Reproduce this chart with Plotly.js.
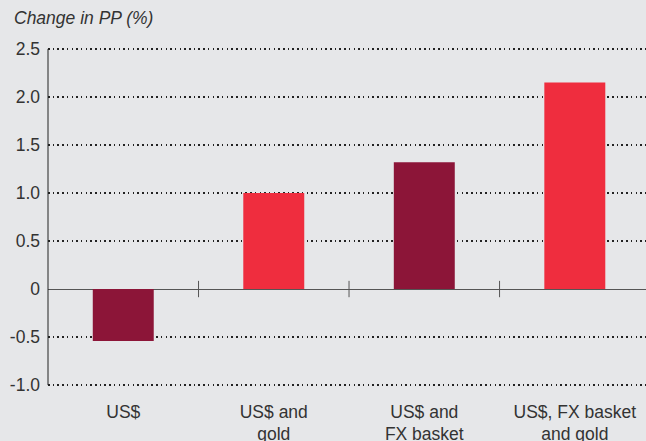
<!DOCTYPE html>
<html>
<head>
<meta charset="utf-8">
<script src="https://cdn.plot.ly/plotly-3.0.1.min.js"></script>
<style>html,body{margin:0;padding:0;background:#e6e7e9;}</style>
</head>
<body>
<div id="chart" style="width:646px;height:441px;"></div>
<script>
const categories = ["US$", "US$ and<br>gold", "US$ and<br>FX basket", "US$, FX basket<br>and gold"];
const values = [-0.54, 1.0, 1.32, 2.15];
const barColors = ["#8c1538", "#ef2d3e", "#8c1538", "#ef2d3e"];
const yTickVals = [-1.0, -0.5, 0, 0.5, 1.0, 1.5, 2.0, 2.5];
const yTickText = ["-1.0", "-0.5", "0", "0.5", "1.0", "1.5", "2.0", "2.5"];
const boundaryPositions = [0.5, 1.5, 2.5];

const xIdx = categories.map((c, i) => i);

const trace = {
  type: "bar",
  x: xIdx,
  y: values,
  marker: {color: barColors},
  hoverinfo: "skip"
};

const shapes = boundaryPositions.map(p => ({
  type: "line", xref: "x", yref: "y",
  x0: p, x1: p, y0: -0.085, y1: 0.085,
  line: {color: "#555", width: 1}
}));
// vertical axis line spanning the labelled range only
shapes.push({
  type: "line", xref: "paper", yref: "y",
  x0: 0, x1: 0, y0: yTickVals[0], y1: yTickVals[yTickVals.length - 1],
  line: {color: "#222", width: 1}
});

const layout = {
  width: 646, height: 441,
  paper_bgcolor: "#e6e7e9",
  plot_bgcolor: "#e6e7e9",
  margin: {l: 48, r: 0, t: 47, b: 54},
  showlegend: false,
  bargap: 0.595,
  font: {family: "Liberation Sans, Arial, sans-serif", color: "#333", size: 17.5},
  title: {
    text: "<i>Change in PP (%)</i>",
    xref: "container", yref: "container",
    x: 14/646, xanchor: "left",
    y: 1 - 18/441, yanchor: "middle",
    font: {size: 17.5, color: "#333"}
  },
  xaxis: {
    range: [-0.5, 3.473],
    tickvals: xIdx,
    ticktext: categories,
    ticks: "",
    showgrid: false,
    zeroline: false,
    showline: false,
    ticklabelstandoff: 12,
    tickfont: {size: 17.5, color: "#333"}
  },
  yaxis: {
    range: [-1.02, 2.52],
    tickvals: yTickVals,
    ticktext: yTickText,
    ticks: "",
    showline: false,
    showgrid: true,
    gridcolor: "#222",
    gridwidth: 1.5,
    griddash: "1.5px,3.2px",
    zeroline: true,
    zerolinecolor: "#555",
    zerolinewidth: 1,
    ticklabelstandoff: 7,
    tickfont: {size: 17.5, color: "#333"}
  },
  shapes: shapes
};

Plotly.newPlot("chart", [trace], layout, {displayModeBar: false, staticPlot: true});
</script>
</body>
</html>
